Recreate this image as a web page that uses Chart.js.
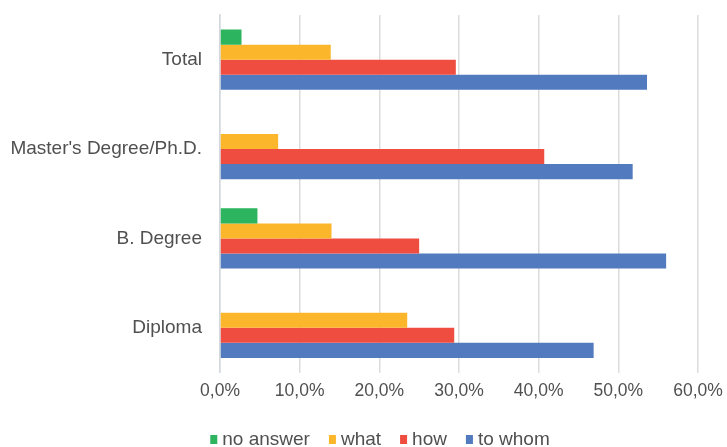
<!DOCTYPE html>
<html>
<head>
<meta charset="utf-8">
<script src="https://cdn.jsdelivr.net/npm/chart.js@4"></script>
<style>
  html, body { margin: 0; padding: 0; background: #fff; }
  #wrap { width: 727px; height: 447px; }
</style>
</head>
<body>
<div id="wrap"><canvas id="myChart" width="727" height="447"></canvas></div>
<script>
const categories = ['Total', "Master's Degree/Ph.D.", 'B. Degree', 'Diploma'];
const seriesNames = ['no answer', 'what', 'how', 'to whom'];
const noAnswer = [2.7, 0, 4.7, 0];
const what = [13.9, 7.3, 14.0, 23.5];
const how = [29.6, 40.7, 25.0, 29.4];
const toWhom = [53.6, 51.8, 56.0, 46.9];
const xTicks = [0, 10, 20, 30, 40, 50, 60];

const colors = ['#2db45e', '#fbb62b', '#ef4d40', '#527bbf'];
const fontFamily = '"Liberation Sans", Arial, Helvetica, sans-serif';
const textColor = '#505050';

// small square legend drawn under the axis
const bottomLegend = {
    id: 'bottomLegend',
    afterDraw(chart) {
        const c = chart.ctx;
        c.save();
        c.font = '19px ' + fontFamily;
        c.textBaseline = 'alphabetic';
        const boxW = 7, boxH = 9, gap = 5, spacing = 19;
        const items = chart.data.datasets.map(ds => ({
            text: ds.label, color: ds.backgroundColor, w: boxW + gap + c.measureText(ds.label).width
        }));
        const total = items.reduce((s, it) => s + it.w, 0) + spacing * (items.length - 1);
        let x = chart.width / 2 + 16.5 - total / 2;
        const base = chart.height - 2;
        items.forEach(it => {
            c.fillStyle = it.color;
            c.fillRect(x, base - 10, boxW, boxH);
            c.fillStyle = textColor;
            c.fillText(it.text, x + boxW + gap, base);
            x += it.w + spacing;
        });
        c.restore();
    }
};

const ctx = document.getElementById('myChart').getContext('2d');
const myChart = new Chart(ctx, {
    type: 'bar',
    data: {
        labels: categories,
        datasets: [noAnswer, what, how, toWhom].map((d, i) => ({
            label: seriesNames[i],
            data: d,
            backgroundColor: colors[i],
            borderWidth: 0,
            barPercentage: 1,
            categoryPercentage: 0.674
        }))
    },
    options: {
        indexAxis: 'y',
        responsive: false,
        animation: false,
        layout: { padding: { top: 15, bottom: 36.5, left: 0, right: 0 } },
        plugins: {
            legend: { display: false },
            tooltip: { enabled: false }
        },
        scales: {
            x: {
                min: 0,
                max: 60,
                afterBuildTicks(scale) {
                    scale.ticks = xTicks.map(v => ({ value: v }));
                },
                afterFit(scale) {
                    scale.paddingLeft = 0;
                    scale.paddingRight = 29;
                },
                grid: { color: '#dcdcdc', lineWidth: 1.5, drawTicks: false },
                border: { display: false },
                ticks: {
                    padding: 8.5,
                    color: textColor,
                    font: { family: fontFamily, size: 17.5 },
                    callback: v => v.toFixed(1).replace('.', ',') + '%'
                }
            },
            y: {
                afterFit(scale) {
                    scale.width = 220;
                    scale.paddingTop = 0;
                    scale.paddingBottom = 0;
                },
                grid: { display: false, drawTicks: false },
                border: { display: true, color: '#d3d7de', width: 1.5 },
                ticks: {
                    padding: 18,
                    color: textColor,
                    font: { family: fontFamily, size: 19 }
                }
            }
        }
    },
    plugins: [bottomLegend]
});
</script>
</body>
</html>
